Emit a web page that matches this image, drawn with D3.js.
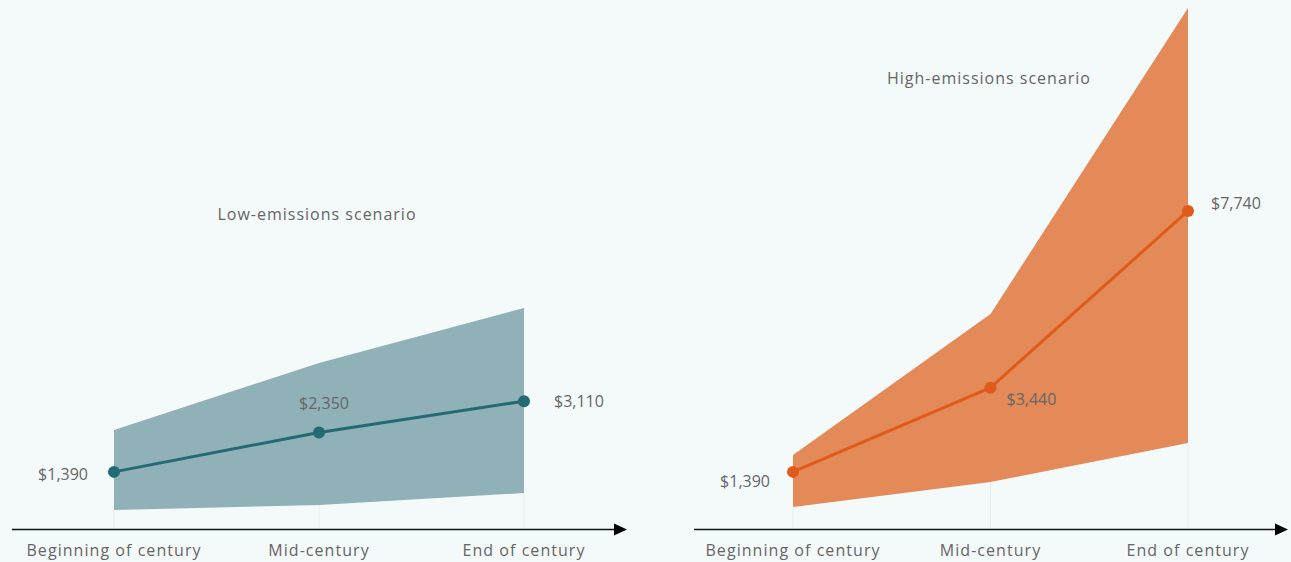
<!DOCTYPE html>
<html><head><meta charset="utf-8">
<script src="https://cdn.jsdelivr.net/npm/d3@7"></script>
<style>
html,body{margin:0;padding:0;background:#f4f9f9;}
svg{display:block;}
text{font-family:"Open Sans",sans-serif;fill:#666;}
</style></head>
<body><svg id="c" width="1291" height="562"></svg>
<script>
const categories = ["Beginning of century", "Mid-century", "End of century"];
const lowMedian = [1390, 2350, 3110];
const lowLower  = [460, 585, 875];
const lowUpper  = [2410, 4040, 5380];
const highMedian = [1390, 3440, 7740];
const highLower  = [535, 1145, 2090];
const highUpper  = [1800, 5230, 12680];
const titles = ["Low-emissions scenario", "High-emissions scenario"];

const svg = d3.select("#c");
const y = d3.scaleLinear().domain([0, 12800]).range([529, 3]);
const fmt = v => "$" + d3.format(",")(v);

const panels = [
  {title: titles[0], med: lowMedian, lo: lowLower, hi: lowUpper, band: "#8fb1b7", line: "#236a73",
   xr: [114, 524], axis: [12, 627], titlePos: [317, 214],
   labels: [{dx:-26, dy:3, a:"end"}, {dx:5, dy:-29, a:"middle"}, {dx:30, dy:0, a:"start"}]},
  {title: titles[1], med: highMedian, lo: highLower, hi: highUpper, band: "#e38a58", line: "#e05a1a",
   xr: [793, 1188], axis: [694, 1288], titlePos: [989, 78],
   labels: [{dx:-23, dy:10, a:"end"}, {dx:16, dy:12, a:"start"}, {dx:23, dy:-8, a:"start"}]}
];

panels.forEach(p => {
  const x = d3.scalePoint().domain(categories).range(p.xr);
  const g = svg.append("g");
  const data = categories.map((c, i) => ({c, m: p.med[i], lo: p.lo[i], hi: p.hi[i]}));
  // faint gridlines below the band
  g.selectAll("line.grid").data(data).join("line")
    .attr("x1", d => x(d.c)).attr("x2", d => x(d.c))
    .attr("y1", y(0)).attr("y2", d => y(d.lo))
    .attr("stroke", "#e9efef").attr("stroke-width", 1);
  g.append("path").datum(data)
    .attr("d", d3.area().x(d => x(d.c)).y0(d => y(d.lo)).y1(d => y(d.hi)))
    .attr("fill", p.band);
  g.append("path").datum(data)
    .attr("d", d3.line().x(d => x(d.c)).y(d => y(d.m)))
    .attr("fill", "none").attr("stroke", p.line).attr("stroke-width", 3);
  g.selectAll("circle").data(data).join("circle")
    .attr("cx", d => x(d.c)).attr("cy", d => y(d.m)).attr("r", 6).attr("fill", p.line);
  g.selectAll("text.val").data(data).join("text").attr("class", "val")
    .attr("x", (d, i) => x(d.c) + p.labels[i].dx)
    .attr("y", (d, i) => y(d.m) + p.labels[i].dy)
    .attr("dy", "0.35em").attr("text-anchor", (d, i) => p.labels[i].a)
    .attr("font-size", 16).text(d => fmt(d.m));
  // axis
  g.append("line").attr("x1", p.axis[0]).attr("x2", p.axis[1] - 10)
    .attr("y1", y(0) + 0.5).attr("y2", y(0) + 0.5).attr("stroke", "#111").attr("stroke-width", 1.6);
  const ax = p.axis[1], ay = y(0) + 0.5;
  g.append("path").attr("d", `M${ax},${ay}L${ax-13},${ay-6}L${ax-13},${ay+6}Z`).attr("fill", "#000");
  g.selectAll("text.cat").data(categories).join("text").attr("class", "cat")
    .attr("x", d => x(d)).attr("y", 550).attr("dy", "0.35em")
    .attr("text-anchor", "middle").attr("font-size", 16).attr("letter-spacing", 1.05).text(d => d);
  g.append("text").attr("x", p.titlePos[0]).attr("y", p.titlePos[1]).attr("dy", "0.35em")
    .attr("text-anchor", "middle").attr("font-size", 16).attr("letter-spacing", 1.0).text(p.title);
});
</script></body></html>
